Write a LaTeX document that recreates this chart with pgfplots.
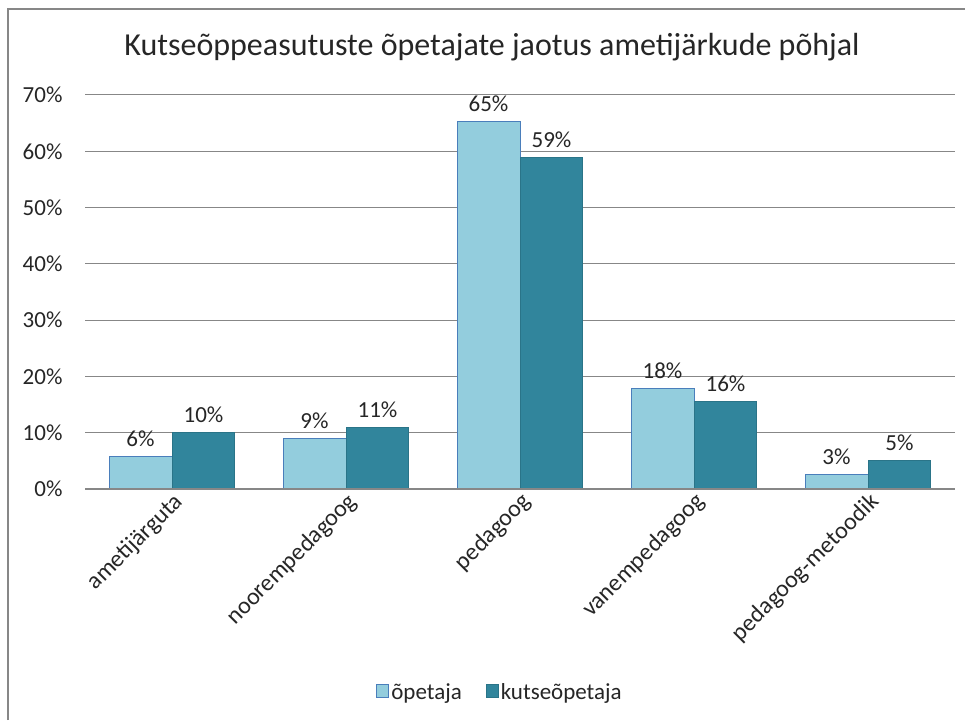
\documentclass[border=0pt]{standalone}
\usepackage{pgfplots}
\pgfplotsset{compat=1.18}
\usepackage{fontspec}
\setmainfont{Carlito}
\definecolor{lightb}{HTML}{93CDDD}
\definecolor{lightbd}{HTML}{4A7EBB}
\definecolor{teal2}{HTML}{31859C}
\definecolor{teal2d}{HTML}{2A7488}
\definecolor{gridg}{HTML}{878787}
\definecolor{txt}{HTML}{262626}
\begin{document}
\begin{tikzpicture}[x=1pt,y=1pt]
\path[use as bounding box] (0,0) rectangle (965,720);
\draw[gridg, line width=1.5pt] (8,0) -- (8,711) -- (966,711);
\node[txt, font=\fontsize{32}{38}\selectfont] at (492,673) {Kutseõppeasutuste õpetajate jaotus ametijärkude põhjal};
\begin{axis}[
  at={(85pt,231pt)}, anchor=south west,
  scale only axis, width=870pt, height=394pt,
  ybar=0pt, bar width=0.362,
  xmin=-0.5, xmax=4.5, ymin=0, ymax=70,
  xtick={0,1,2,3,4},
  xticklabels={ametijärguta,noorempedagoog,pedagoog,vanempedagoog,pedagoog-metoodik},
  xticklabel style={rotate=45, anchor=east, font=\fontsize{24}{28}\selectfont, text=txt, xshift=2pt, yshift=-12pt},
  ytick={0,10,...,70},
  yticklabel={\pgfmathprintnumber{\tick}\%},
  yticklabel style={font=\fontsize{23}{27}\selectfont, text=txt, xshift=-19pt},
  /pgf/number format/assume math mode=true,
  ymajorgrids, grid style={gridg, line width=1pt},
  major tick length=0pt,
  axis line style={draw=none},
  axis x line*=bottom, axis y line*=left,
  nodes near coords={\pgfmathprintnumber[fixed,precision=0]{\pgfplotspointmeta}\%},
  nodes near coords style={font=\fontsize{23}{27}\selectfont, text=txt, yshift=6pt},
  legend style={at={(0.477,-0.515)}, anchor=center, draw=none, legend columns=2,
    font=\fontsize{23}{27}\selectfont, text=txt, /tikz/every even column/.append style={column sep=22pt}},
  legend image code/.code={\draw[#1] (0pt,-6pt) rectangle (12pt,7pt);},
  clip=false,
]
\addplot[fill=lightb, draw=lightbd, line width=1pt] coordinates {(0,5.7) (1,9.05) (2,65.3) (3,17.9) (4,2.6)};
\addplot[fill=teal2, draw=teal2d, line width=1pt] coordinates {(0,9.95) (1,11.0) (2,58.9) (3,15.6) (4,5.0)};
\draw[gridg, line width=1.2pt] (axis cs:-0.5,0) -- (axis cs:4.5,0);
\legend{õpetaja,kutseõpetaja}
\end{axis}
\end{tikzpicture}
\end{document}
